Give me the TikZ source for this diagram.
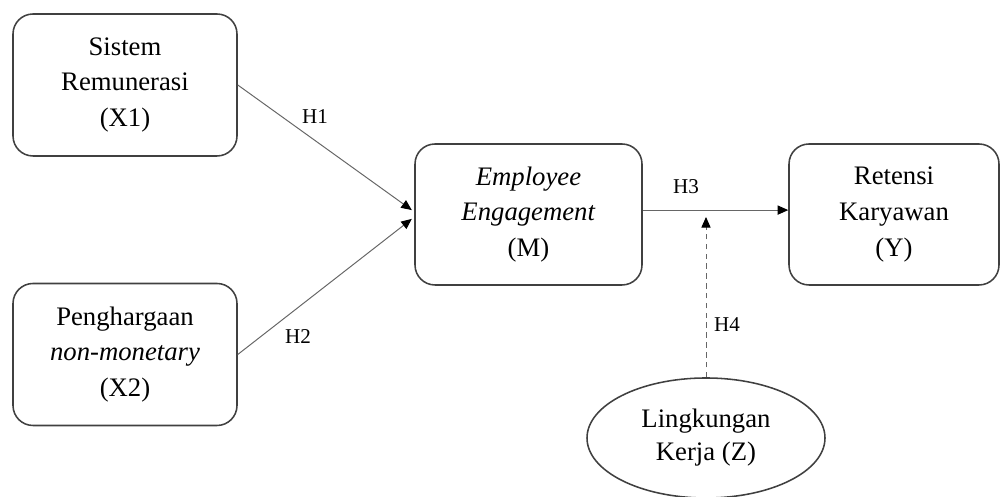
\documentclass[tikz,border=0pt]{standalone}
\usepackage{fontspec}
\setmainfont{Liberation Serif}
\usetikzlibrary{arrows.meta,shapes.geometric}

\begin{document}
\begin{tikzpicture}[
    varbox/.style={draw=black!75, line width=1.1pt, rounded corners=0.5cm, align=center,
        minimum width=5.6cm, minimum height=3.55cm, inner sep=0pt,
        font=\fontsize{19}{25.5}\selectfont},
    lbl/.style={font=\fontsize{15}{17}\selectfont},
    link/.style={draw=black!60, line width=0.7pt, -{Triangle[length=7.5pt,width=6.5pt,black]}}
]
    \useasboundingbox (0, 0) rectangle (25.075, 12.425);
    \node[varbox] (X1) at (3.125, 10.3) {Sistem\\Remunerasi\\(X1)};
    \node[varbox] (X2) at (3.125, 3.5625) {Penghargaan\\\textit{non-monetary}\\(X2)};
    \node[varbox, minimum width=5.675cm, minimum height=3.525cm] (M) at (13.2125, 7.0625) {\textit{Employee}\\\textit{Engagement}\\(M)};
    \node[varbox, minimum width=5.25cm, minimum height=3.525cm] (Y) at (22.35, 7.0625) {Retensi\\Karyawan\\(Y)};
    \node[draw=black!75, line width=1.1pt, ellipse, minimum width=5.95cm, minimum height=3cm, inner sep=0pt, align=center,
        font=\fontsize{19}{23.5}\selectfont] (Z) at (17.65, 1.475) {Lingkungan\\Kerja (Z)};
    \coordinate (mod) at (17.65, 7.0);
    \draw[link] (X1.east) -- ([xshift=-0.06cm, yshift=0.11cm]M.west);
    \draw[link] (X2.east) -- ([xshift=-0.06cm, yshift=-0.11cm]M.west);
    \draw[link] ([yshift=0.11cm]M.east) -- ([yshift=0.11cm]Y.west);
    \draw[link, dash pattern=on 4pt off 3pt] (Z.north) -- (mod);
    \node[lbl] (h1) at (7.875, 9.5) {H1};
    \node[lbl] (h2) at (7.45, 4.0) {H2};
    \node[lbl] (h3) at (17.15, 7.75) {H3};
    \node[lbl] (h4) at (18.175, 4.3) {H4};
\end{tikzpicture}
\end{document}
